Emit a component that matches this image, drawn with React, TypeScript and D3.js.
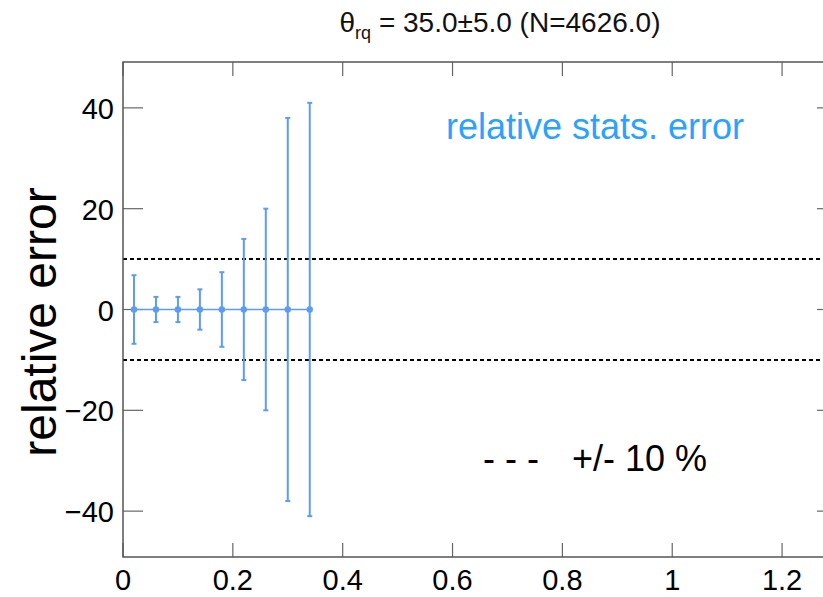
import React from "react";
import * as d3 from "d3";

const xValues = [0.02, 0.06, 0.10, 0.14, 0.18, 0.22, 0.26, 0.30, 0.34];
const yValues = [0, 0, 0, 0, 0, 0, 0, 0, 0];
const yErrors = [6.8, 2.5, 2.5, 4.0, 7.4, 14.0, 20.0, 38.0, 41.0];
const xTicks = [0, 0.2, 0.4, 0.6, 0.8, 1.0, 1.2];
const xTickLabels = ["0", "0.2", "0.4", "0.6", "0.8", "1", "1.2"];
const yTicks = [-40, -20, 0, 20, 40];
const yTickLabels = ["\u221240", "\u221220", "0", "20", "40"];
const refLines = [10, -10];

const W = 823;
const H = 597;
const left = 123;
const right = 837;
const top = 62;
const bottom = 557;
const FONT = "'Liberation Sans', Arial, Helvetica, sans-serif";
const BLUE = "#5c9cf2";

export default function App() {
  const x = d3.scaleLinear().domain([0, 1.3]).range([left, right]);
  const y = d3.scaleLinear().domain([-49.1, 49.1]).range([bottom, top]);
  const line = d3
    .line<number>()
    .x((_, i) => x(xValues[i]))
    .y((_, i) => y(yValues[i]));

  return (
    <svg
      width={W}
      height={H}
      style={{ position: "absolute", left: 0, top: 0, background: "#fff" }}
      fontFamily={FONT}
    >
      {/* title */}
      <text x={500} y={32} textAnchor="middle" fontSize={28} fill="#111">
        <tspan>θ</tspan>
        <tspan fontSize={18} dy={7}>rq</tspan>
        <tspan dy={-7}> = 35.0±5.0 (N=4626.0)</tspan>
      </text>

      {/* reference dashed lines */}
      {refLines.map((v) => (
        <line
          key={v}
          x1={left}
          x2={right}
          y1={y(v)}
          y2={y(v)}
          stroke="#000"
          strokeWidth={2}
          strokeDasharray="4,3"
        />
      ))}

      {/* ticks */}
      {xTicks.map((t) => (
        <g key={"xt" + t}>
          <line x1={x(t)} x2={x(t)} y1={bottom} y2={bottom - 14} stroke="#666" strokeWidth={1.2} />
          <line x1={x(t)} x2={x(t)} y1={top} y2={top + 14} stroke="#666" strokeWidth={1.2} />
        </g>
      ))}
      {yTicks.map((t) => (
        <g key={"yt" + t}>
          <line x1={left} x2={left + 20} y1={y(t)} y2={y(t)} stroke="#666" strokeWidth={1.2} />
          <line x1={right} x2={right - 20} y1={y(t)} y2={y(t)} stroke="#666" strokeWidth={1.2} />
        </g>
      ))}

      {/* frame */}
      <rect x={left} y={top} width={right - left} height={bottom - top} fill="none" stroke="#555" strokeWidth={1.5} />

      {/* tick labels */}
      {xTicks.map((t, i) => (
        <text key={"xl" + t} x={x(t)} y={590} textAnchor="middle" fontSize={29} fill="#000">
          {xTickLabels[i]}
        </text>
      ))}
      {yTicks.map((t, i) => (
        <text key={"yl" + t} x={114} y={y(t) + 11} textAnchor="end" fontSize={29} fill="#000">
          {yTickLabels[i]}
        </text>
      ))}

      {/* axis label */}
      <text
        transform={`translate(56,322) rotate(-90)`}
        textAnchor="middle"
        fontSize={48}
        fill="#000"
      >
        relative error
      </text>

      {/* data */}
      <path d={line(xValues) || ""} fill="none" stroke={BLUE} strokeWidth={1.5} />
      {xValues.map((xv, i) => (
        <g key={"p" + i}>
          <line x1={x(xv)} x2={x(xv)} y1={y(yValues[i] + yErrors[i])} y2={y(yValues[i] - yErrors[i])} stroke={BLUE} strokeWidth={2} />
          <line x1={x(xv) - 2.5} x2={x(xv) + 2.5} y1={y(yValues[i] + yErrors[i])} y2={y(yValues[i] + yErrors[i])} stroke={BLUE} strokeWidth={2} />
          <line x1={x(xv) - 2.5} x2={x(xv) + 2.5} y1={y(yValues[i] - yErrors[i])} y2={y(yValues[i] - yErrors[i])} stroke={BLUE} strokeWidth={2} />
          <circle cx={x(xv)} cy={y(yValues[i])} r={3.2} fill={BLUE} />
        </g>
      ))}

      {/* annotations */}
      <text x={446} y={139} fontSize={36} fill="#2ba2ff">
        relative stats. error
      </text>
      <text x={483} y={471} fontSize={36} fill="#000">
        - - -
      </text>
      <text x={572} y={471} fontSize={36} fill="#000">
        +/- 10 %
      </text>
    </svg>
  );
}
